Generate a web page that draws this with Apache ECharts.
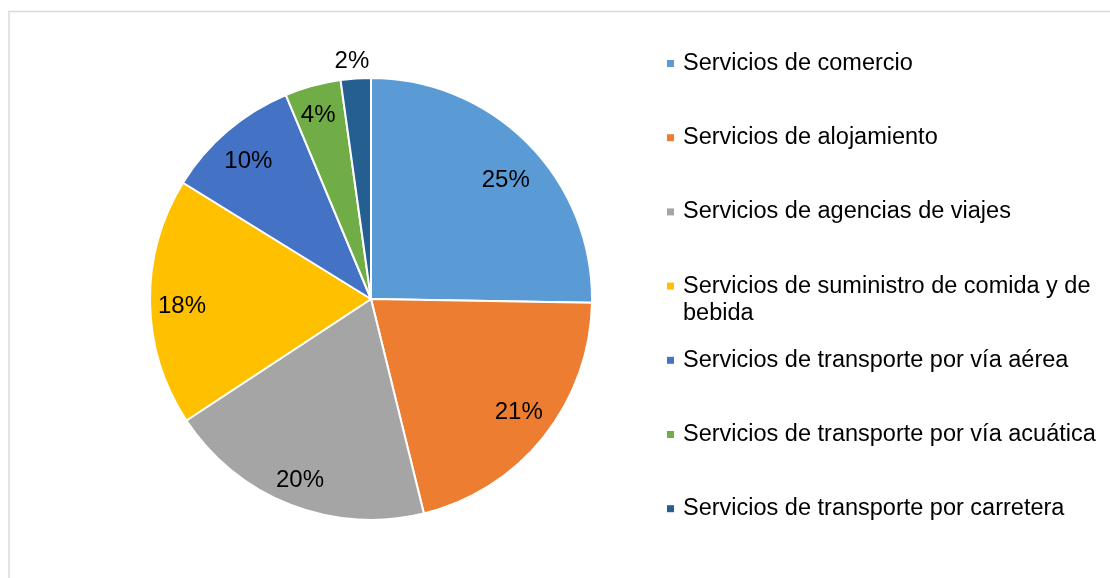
<!DOCTYPE html>
<html>
<head>
<meta charset="utf-8">
<script src="https://cdn.jsdelivr.net/npm/echarts@6/dist/echarts.min.js"></script>
<style>
  html, body { margin: 0; padding: 0; background: #fff; }
  #chart { width: 1110px; height: 578px; }
</style>
</head>
<body>
<div id="chart"></div>
<script>
// categorias y valores (porcentajes)
var categorias = [
  "Servicios de comercio",
  "Servicios de alojamiento",
  "Servicios de agencias de viajes",
  "Servicios de suministro de comida y de bebida",
  "Servicios de transporte por vía aérea",
  "Servicios de transporte por vía acuática",
  "Servicios de transporte por carretera"
];
var valores = [25.3, 20.9, 19.6, 18.1, 9.9, 4.1, 2.2];
var colores = ["#5B9BD5", "#ED7D31", "#A5A5A5", "#FFC000", "#4472C4", "#70AD47", "#255E91"];

var fuente = "'Liberation Sans', Arial, sans-serif";
var centro = [371, 299];
var radio = 221;
// ajuste fino de cada etiqueta (Excel las coloca con "mejor ajuste")
var ajusteEtiquetas = [[0, 14], [0, -4], [-2, 5], [0, 5], [0, 6], [-3, -1], [-6, -49]];

var datos = categorias.map(function (c, i) {
  return { name: c, value: valores[i], itemStyle: { color: colores[i] } };
});

// capa transparente solo para las etiquetas (a ~84% del radio)
var datosEtiquetas = categorias.map(function (c, i) {
  return { name: c, value: valores[i], label: { offset: ajusteEtiquetas[i] } };
});

// una leyenda por elemento, repartidas de arriba abajo como en Excel
var leyendas = categorias.map(function (c, i) {
  var y = 63.5 + 74.2 * i;
  var largo = i === 3;
  return {
    data: [c],
    orient: "vertical",
    left: 667,
    top: largo ? y - 40.5 : y - 13.5,
    padding: 0,
    icon: "rect",
    itemWidth: 7,
    itemHeight: 7,
    itemStyle: { borderWidth: 0 },
    selectedMode: false,
    formatter: function (name) {
      if (!largo) return name;
      // el texto largo se parte en dos lineas; la linea vacia deja la primera a la altura del marcador
      var k = name.lastIndexOf(" ");
      return "\n" + name.slice(0, k) + "\n" + name.slice(k + 1);
    },
    textStyle: {
      fontFamily: fuente,
      fontSize: 23.5,
      lineHeight: 27,
      color: "#000",
      padding: [0, 0, 0, 4]
    }
  };
});

var chart = echarts.init(document.getElementById("chart"));
chart.setOption({
  backgroundColor: "#fff",
  animation: false,
  legend: leyendas,
  graphic: [{
    type: "rect",
    shape: { x: 9, y: 11.5, width: 1200, height: 700 },
    style: { fill: "none", stroke: "#d9d9d9", lineWidth: 1.5 },
    silent: true
  }],
  series: [
    {
      name: "sectores",
      type: "pie",
      center: centro,
      radius: radio,
      startAngle: 90,
      clockwise: true,
      avoidLabelOverlap: false,
      label: { show: false },
      labelLine: { show: false },
      itemStyle: { borderColor: "#fff", borderWidth: 2 },
      emphasis: { disabled: true },
      data: datos
    },
    {
      name: "etiquetas",
      type: "pie",
      center: centro,
      radius: [151, radio],
      startAngle: 90,
      clockwise: true,
      silent: true,
      avoidLabelOverlap: false,
      itemStyle: { color: "rgba(0,0,0,0)" },
      labelLine: { show: false },
      label: {
        show: true,
        position: "inside",
        fontFamily: fuente,
        fontSize: 24,
        color: "#000",
        formatter: function (p) { return Math.round(p.value) + "%"; }
      },
      emphasis: { disabled: true },
      data: datosEtiquetas
    }
  ]
});
</script>
</body>
</html>
